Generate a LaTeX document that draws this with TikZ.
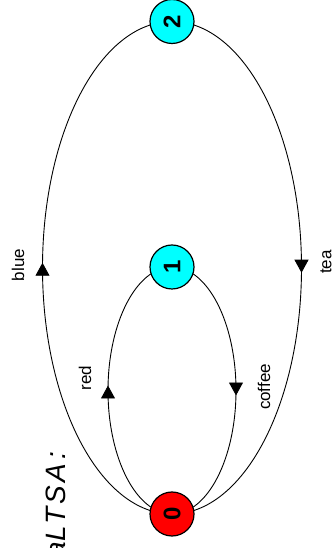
\documentclass[tikz,border=0pt]{standalone}
\usepackage{fontspec}
\setmainfont{Liberation Sans}
\usetikzlibrary{arrows.meta,decorations.markings}
\definecolor{nodecyan}{RGB}{0,255,255}
\definecolor{nodered}{RGB}{255,0,0}
\pgfdeclarelayer{bg}
\pgfsetlayers{bg,main}
\begin{document}
\begin{tikzpicture}[x=1pt,y=1pt,
  state/.style={circle,draw,line width=1.2pt,minimum size=44pt,inner sep=0pt,rotate=90,font=\bfseries\fontsize{24}{24}\selectfont},
  lbl/.style={rotate=90,font=\fontsize{17}{17}\selectfont},
  edge/.style={line width=0.9pt},
  mid/.style={postaction={decorate,decoration={markings,mark=at position 0.5 with {\arrow[xshift=5pt]{Triangle[length=13pt,width=14pt]}}}}}
]
\useasboundingbox (0,0) rectangle (334,548);
\node[state,fill=nodered] (n0) at (172,34) {0};
\node[state,fill=nodecyan] (n1) at (172,281) {1};
\node[state,fill=nodecyan] (n2) at (172,526.5) {2};
\begin{pgfonlayer}{bg}
\draw[edge,mid] (n0.center) arc[start angle=-90,end angle=-270,x radius=64,y radius=123.5];
\draw[edge,mid] (n1.center) arc[start angle=90,end angle=-90,x radius=64,y radius=123.5];
\draw[edge,mid] (n0.center) arc[start angle=-90,end angle=-270,x radius=129.5,y radius=246.25];
\draw[edge,mid] (n2.center) arc[start angle=90,end angle=-90,x radius=129.5,y radius=246.25];
\end{pgfonlayer}
\node[lbl] (lred) at (85,170) {red};
\node[lbl] (lcoffee) at (264,161) {coffee};
\node[lbl] (lblue) at (18,283) {blue};
\node[lbl] (ltea) at (326,286) {tea};
\node[rotate=90,anchor=base east,inner sep=0pt,font=\itshape\fontsize{28}{28}\selectfont\addfontfeature{LetterSpace=12}] (title) at (65,96) {a\hspace{1pt}LTSA:};
\end{tikzpicture}
\end{document}
